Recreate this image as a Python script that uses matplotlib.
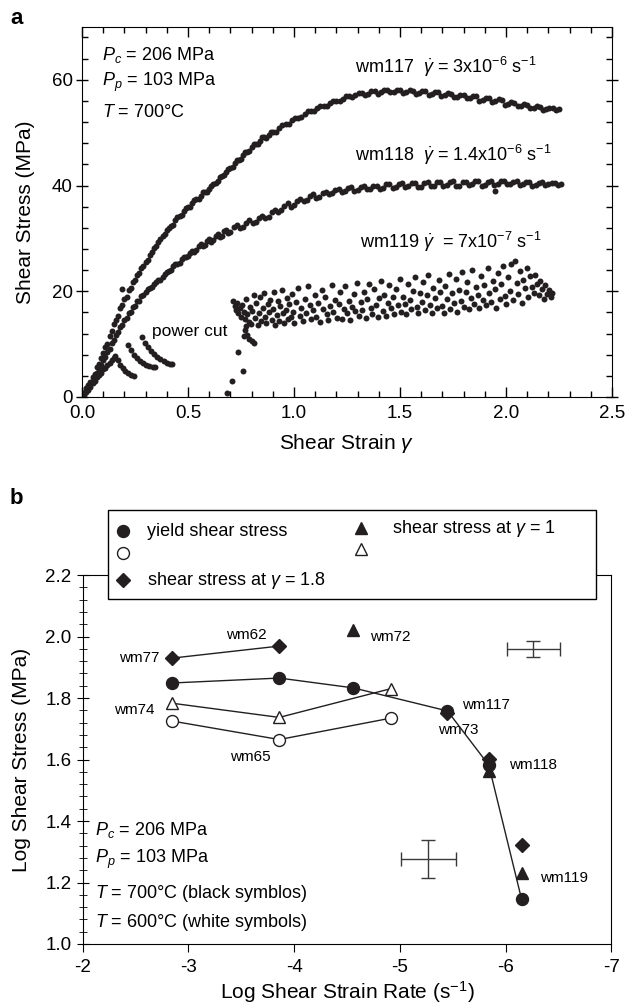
import numpy as np
import matplotlib
matplotlib.use("Agg")
import matplotlib.pyplot as plt
from matplotlib.patches import Rectangle
from matplotlib.ticker import MultipleLocator, FormatStrFormatter

plt.rcParams['font.family'] = ['Liberation Sans', 'DejaVu Sans']
plt.rcParams['mathtext.fontset'] = 'custom'
plt.rcParams['mathtext.rm'] = 'Liberation Sans'
plt.rcParams['mathtext.it'] = 'Liberation Sans:italic'
plt.rcParams['mathtext.bf'] = 'Liberation Sans:bold'
plt.rcParams['axes.unicode_minus'] = False

INK = '#231f20'

# ---- panel a: shear stress (MPa) vs shear strain ----
wm117_pts = [
    (0.00, 0.3), (0.01, 0.8), (0.02, 1.6), (0.03, 2.2), (0.04, 2.9), (0.05, 3.8), (0.06, 4.3),
    (0.07, 5.6), (0.08, 6.2), (0.09, 7.4), (0.10, 8.3), (0.11, 9.4), (0.12, 10.1), (0.13, 11.6),
    (0.14, 12.4), (0.15, 13.8), (0.16, 14.6), (0.17, 15.3), (0.18, 16.9), (0.19, 17.4), (0.19, 20.4),
    (0.20, 18.6), (0.21, 19.0), (0.22, 20.2), (0.23, 20.6), (0.24, 21.8), (0.25, 22.1), (0.26, 23.0),
    (0.27, 23.5), (0.28, 24.4), (0.29, 24.8), (0.30, 25.6), (0.31, 26.0), (0.32, 26.9), (0.33, 27.4),
    (0.34, 28.1), (0.35, 28.5), (0.36, 29.3), (0.37, 29.8), (0.38, 30.4), (0.39, 30.9), (0.40, 31.5),
    (0.42, 32.3), (0.44, 33.4), (0.46, 34.2), (0.48, 35.1), (0.50, 35.9), (0.52, 36.6), (0.54, 37.5),
    (0.56, 38.1), (0.58, 38.8), (0.60, 39.3), (0.62, 40.3), (0.64, 40.9), (0.66, 41.8), (0.68, 42.5),
    (0.70, 43.3), (0.72, 44.2), (0.74, 44.9), (0.76, 45.8), (0.78, 46.3), (0.80, 47.2), (0.82, 47.9),
    (0.84, 48.5), (0.86, 49.2), (0.88, 49.6), (0.90, 50.1), (0.93, 50.9), (0.96, 51.6), (0.99, 52.3),
    (1.02, 52.8), (1.05, 53.5), (1.08, 54.0), (1.11, 54.6), (1.14, 55.0), (1.17, 55.6), (1.20, 56.0),
    (1.23, 56.4), (1.26, 56.9), (1.29, 57.1), (1.32, 57.5), (1.35, 57.4), (1.38, 57.8), (1.41, 57.6),
    (1.44, 58.0), (1.47, 57.7), (1.50, 58.0), (1.53, 57.6), (1.56, 57.9), (1.59, 57.5), (1.62, 57.8),
    (1.65, 57.3), (1.68, 57.6), (1.71, 57.1), (1.74, 57.4), (1.77, 56.8), (1.80, 57.2), (1.83, 56.6),
    (1.86, 56.9), (1.89, 56.2), (1.92, 56.5), (1.95, 55.9), (1.98, 56.1), (2.01, 55.5), (2.04, 55.7),
    (2.07, 55.1), (2.10, 55.3), (2.13, 54.7), (2.16, 54.9), (2.19, 54.4), (2.22, 54.6), (2.25, 54.5),
    (0.41, 32.0), (0.43, 32.6), (0.45, 34.0), (0.47, 34.4), (0.49, 35.7), (0.51, 36.0), (0.53, 37.3),
    (0.55, 37.5), (0.57, 38.7), (0.59, 38.8), (0.61, 40.0), (0.63, 40.4), (0.65, 41.6), (0.67, 41.9),
    (0.69, 43.1), (0.71, 43.5), (0.73, 44.8), (0.75, 45.1), (0.77, 46.3), (0.79, 46.5), (0.81, 47.8),
    (0.83, 47.9), (0.85, 49.1), (0.87, 49.0), (0.89, 50.1), (0.915, 50.2), (0.945, 51.5), (0.975, 51.7),
    (1.005, 52.7), (1.035, 52.9), (1.065, 54.0), (1.095, 54.1), (1.125, 55.0), (1.155, 55.1),
    (1.185, 56.0), (1.215, 56.0), (1.245, 56.9), (1.275, 56.7), (1.305, 57.5), (1.335, 57.2),
    (1.365, 57.9), (1.395, 57.4), (1.425, 58.1), (1.455, 57.6), (1.485, 58.1), (1.515, 57.5),
    (1.545, 58.0), (1.575, 57.3), (1.605, 57.9), (1.635, 57.2), (1.665, 57.7), (1.695, 56.9),
    (1.725, 57.5), (1.755, 56.7), (1.785, 57.2), (1.815, 56.5), (1.845, 57.0), (1.875, 56.0),
    (1.905, 56.6), (1.935, 55.8), (1.965, 56.3), (1.995, 55.3), (2.025, 55.8), (2.055, 55.0),
    (2.085, 55.4), (2.115, 54.6), (2.145, 55.0), (2.175, 54.3), (2.205, 54.7), (2.235, 54.2),
]

wm118_pts = [
    (0.00, 0.2), (0.01, 0.7), (0.02, 1.3), (0.03, 1.9), (0.04, 2.4), (0.05, 3.1), (0.06, 3.8),
    (0.07, 4.6), (0.08, 5.3), (0.09, 6.1), (0.10, 6.9), (0.11, 7.6), (0.12, 8.5), (0.13, 9.1),
    (0.14, 10.2), (0.15, 10.8), (0.16, 11.7), (0.17, 12.2), (0.18, 13.3), (0.19, 13.7), (0.20, 14.6),
    (0.21, 15.0), (0.22, 15.9), (0.23, 16.1), (0.24, 17.0), (0.25, 17.2), (0.26, 18.1), (0.27, 18.2),
    (0.28, 19.1), (0.29, 19.2), (0.30, 19.9), (0.32, 20.6), (0.34, 21.3), (0.36, 22.1), (0.38, 22.6),
    (0.40, 23.7), (0.42, 24.1), (0.44, 25.2), (0.46, 25.4), (0.48, 26.5), (0.50, 26.6), (0.52, 27.6),
    (0.54, 27.8), (0.56, 28.9), (0.58, 28.7), (0.60, 29.9), (0.62, 29.6), (0.64, 30.8), (0.66, 30.5),
    (0.68, 31.6), (0.70, 31.2), (0.73, 32.5), (0.76, 32.2), (0.79, 33.4), (0.82, 33.1), (0.85, 34.3),
    (0.88, 34.0), (0.91, 35.4), (0.94, 35.3), (0.97, 36.6), (1.00, 36.3), (1.03, 37.5), (1.06, 37.3),
    (1.09, 38.3), (1.12, 37.9), (1.15, 38.8), (1.18, 38.5), (1.21, 39.3), (1.24, 38.9), (1.27, 39.7),
    (1.30, 39.2), (1.33, 39.9), (1.36, 39.4), (1.39, 40.0), (1.42, 39.6), (1.45, 40.3), (1.48, 39.7),
    (1.51, 40.4), (1.54, 39.9), (1.57, 40.5), (1.60, 39.8), (1.63, 40.6), (1.66, 40.0), (1.69, 40.7),
    (1.72, 40.1), (1.75, 40.8), (1.78, 40.0), (1.81, 40.7), (1.84, 40.2), (1.87, 40.9), (1.90, 40.1),
    (1.93, 40.8), (1.95, 39.0), (1.96, 40.2), (1.99, 40.9), (2.02, 40.3), (2.05, 40.8), (2.08, 40.2),
    (2.11, 40.7), (2.14, 40.1), (2.17, 40.6), (2.20, 40.2), (2.23, 40.5), (2.26, 40.2),
    (0.31, 20.4), (0.33, 20.8), (0.35, 21.8), (0.37, 22.2), (0.39, 23.3), (0.41, 23.8), (0.43, 24.8),
    (0.45, 25.2), (0.47, 26.1), (0.49, 26.4), (0.51, 27.3), (0.53, 27.5), (0.55, 28.5), (0.57, 28.5),
    (0.59, 29.5), (0.61, 29.4), (0.63, 30.5), (0.65, 30.3), (0.67, 31.3), (0.69, 31.1), (0.715, 32.1),
    (0.745, 32.0), (0.775, 33.0), (0.805, 32.9), (0.835, 33.9), (0.865, 33.8), (0.895, 35.0),
    (0.925, 34.9), (0.955, 36.2), (0.985, 36.0), (1.015, 37.1), (1.045, 37.0), (1.075, 38.0),
    (1.105, 37.7), (1.135, 38.6), (1.165, 38.3), (1.195, 39.1), (1.225, 38.7), (1.255, 39.5),
    (1.285, 39.0), (1.315, 39.8), (1.345, 39.3), (1.375, 39.9), (1.405, 39.4), (1.435, 40.2),
    (1.465, 39.6), (1.495, 40.3), (1.525, 39.8), (1.555, 40.4), (1.585, 39.7), (1.615, 40.5),
    (1.645, 39.9), (1.675, 40.6), (1.705, 40.0), (1.735, 40.7), (1.765, 39.9), (1.795, 40.6),
    (1.825, 40.1), (1.855, 40.8), (1.885, 40.0), (1.915, 40.7), (1.945, 40.1), (1.975, 40.8),
    (2.005, 40.2), (2.035, 40.7), (2.065, 40.1), (2.095, 40.6), (2.125, 40.0), (2.155, 40.5),
    (2.185, 40.1), (2.215, 40.4), (2.245, 40.1),
]

# wm119 before the power cut (rise + relaxation stripes)
wm119_early = [
    (0.01, 0.3), (0.02, 0.9), (0.03, 1.4), (0.04, 1.8), (0.05, 2.6), (0.06, 3.0), (0.07, 3.7),
    (0.08, 4.1), (0.09, 4.6), (0.10, 5.2), (0.11, 5.5), (0.12, 6.0), (0.13, 6.4), (0.14, 6.9),
    (0.15, 7.4),
    (0.156, 7.8), (0.168, 6.9), (0.180, 6.1), (0.192, 5.4), (0.204, 4.9), (0.216, 4.5), (0.230, 4.2),
    (0.245, 4.0),
    (0.217, 9.8), (0.230, 8.9), (0.244, 8.0), (0.258, 7.3), (0.272, 6.8), (0.287, 6.4), (0.302, 6.1),
    (0.318, 5.9), (0.334, 5.7), (0.344, 5.6),
    (0.283, 11.3), (0.297, 10.3), (0.311, 9.4), (0.325, 8.7), (0.340, 8.1), (0.355, 7.6), (0.370, 7.1),
    (0.385, 6.8), (0.400, 6.5), (0.414, 6.3), (0.425, 6.2),
]

# wm119 after the power cut
wm119_late = [
    (0.684, 0.7), (0.707, 3.0), (0.736, 8.5), (0.760, 5.0), (0.765, 11.5), (0.770, 12.6), (0.775, 13.4),
    (0.780, 11.8), (0.790, 11.0), (0.800, 10.6), (0.810, 10.3),
    (0.712, 18.1), (0.720, 17.2), (0.725, 16.4), (0.731, 17.8), (0.738, 15.9), (0.744, 16.8), (0.750, 15.2),
    (0.756, 17.4), (0.762, 16.1), (0.768, 14.8), (0.774, 18.6), (0.780, 15.6), (0.786, 14.2), (0.792, 17.0),
    (0.798, 13.8), (0.804, 16.3), (0.810, 19.2), (0.816, 14.9), (0.822, 17.7), (0.828, 13.6), (0.834, 15.8),
    (0.840, 18.9), (0.846, 14.4), (0.852, 16.9), (0.858, 19.6), (0.864, 15.1), (0.870, 13.9), (0.876, 17.5),
    (0.882, 16.0), (0.888, 18.4), (0.894, 14.6), (0.900, 16.7), (0.906, 19.9), (0.912, 13.7), (0.918, 15.5),
    (0.924, 18.1), (0.930, 14.3), (0.936, 17.2), (0.942, 20.3), (0.948, 15.9), (0.954, 13.9), (0.960, 16.5),
    (0.966, 18.8), (0.972, 14.7), (0.978, 17.6), (0.984, 15.2), (0.990, 19.5), (0.996, 16.1), (1.002, 14.0),
    (1.010, 17.9), (1.018, 20.6), (1.026, 15.4), (1.034, 16.8), (1.042, 14.4), (1.050, 18.6), (1.058, 15.9),
    (1.066, 21.0), (1.074, 17.3), (1.082, 14.8), (1.090, 16.4), (1.098, 19.3), (1.106, 15.1), (1.114, 17.8),
    (1.122, 14.2), (1.130, 20.2), (1.138, 16.6), (1.146, 18.9), (1.154, 15.6), (1.162, 14.6), (1.170, 17.2),
    (1.178, 21.2), (1.186, 16.0), (1.194, 18.4), (1.202, 15.0), (1.210, 17.6), (1.218, 19.8), (1.226, 14.8),
    (1.234, 16.7), (1.242, 20.9), (1.250, 15.8), (1.258, 18.2), (1.266, 14.5), (1.274, 17.0), (1.282, 19.4),
    (1.290, 16.2), (1.298, 21.5), (1.306, 15.3), (1.314, 17.9), (1.322, 16.4), (1.330, 19.9), (1.338, 14.9),
    (1.346, 18.5), (1.354, 21.3), (1.362, 16.9), (1.370, 15.6), (1.378, 20.4), (1.386, 17.4), (1.394, 15.1),
    (1.402, 18.8), (1.410, 22.0), (1.418, 16.3), (1.426, 19.3), (1.434, 15.4), (1.442, 17.7), (1.450, 21.1),
    (1.458, 16.8), (1.466, 18.9), (1.474, 15.7), (1.482, 20.5), (1.490, 17.3), (1.498, 22.4), (1.506, 16.1),
    (1.514, 19.0), (1.522, 17.6), (1.530, 15.6), (1.538, 21.4), (1.546, 18.3), (1.554, 16.6), (1.562, 20.0),
    (1.570, 22.6), (1.578, 17.1), (1.586, 15.9), (1.594, 19.6), (1.602, 18.0), (1.610, 21.8), (1.618, 16.4),
    (1.626, 19.3), (1.634, 23.0), (1.642, 17.4), (1.650, 15.8), (1.658, 20.6), (1.666, 18.7), (1.674, 16.9),
    (1.682, 22.1), (1.690, 19.8), (1.698, 17.2), (1.706, 15.9), (1.714, 21.0), (1.722, 18.5), (1.730, 23.3),
    (1.738, 16.7), (1.746, 19.6), (1.754, 17.8), (1.762, 22.4), (1.770, 16.1), (1.778, 20.3), (1.786, 18.2),
    (1.794, 23.6), (1.802, 17.0), (1.810, 19.9), (1.818, 21.7), (1.826, 16.6), (1.834, 18.8), (1.842, 24.0),
    (1.850, 17.6), (1.858, 20.8), (1.866, 19.2), (1.874, 16.9), (1.882, 22.8), (1.890, 18.4), (1.898, 21.2),
    (1.906, 17.3), (1.914, 24.4), (1.922, 19.7), (1.930, 17.9), (1.938, 22.0), (1.946, 20.5), (1.954, 16.8),
    (1.962, 23.4), (1.970, 18.6), (1.978, 21.4), (1.986, 24.8), (1.994, 19.1), (2.002, 17.5), (2.010, 22.6),
    (2.018, 20.1), (2.026, 25.2), (2.034, 18.3), (2.042, 25.8), (2.050, 21.5), (2.058, 19.4), (2.066, 23.8),
    (2.074, 17.8), (2.082, 22.2), (2.090, 20.6), (2.098, 24.3), (2.106, 18.9), (2.114, 22.9), (2.122, 20.8),
    (2.130, 19.6), (2.138, 23.1), (2.146, 21.3), (2.154, 19.2), (2.162, 22.0), (2.170, 20.4), (2.178, 18.6),
    (2.186, 21.2), (2.194, 19.5), (2.202, 20.3), (2.210, 18.9), (2.218, 19.6),
]

# ---- panel b: log shear stress vs log shear strain rate ----
rate_yield = [-2.85, -3.86, -4.56, -5.45, -5.84, -6.15]
yield_700 = [1.849, 1.865, 1.833, 1.758, 1.582, 1.146]
rate_g18 = [-2.85, -3.86]
stress_g18 = [1.930, 1.969]
rate_g18_b = [-5.45, -5.84, -6.15]
stress_g18_b = [1.750, 1.602, 1.322]
rate_g1 = [-4.56, -5.84, -6.15]
stress_g1 = [2.020, 1.562, 1.231]
rate_600 = [-2.85, -3.86, -4.92]
yield_600 = [1.725, 1.665, 1.735]
g1_600 = [1.783, 1.737, 1.831]
err_rate = [-6.26, -5.27]
err_stress = [1.959, 1.276]
err_dx = [0.25, 0.26]
err_dy = [0.025, 0.062]
sample_names = ['wm77', 'wm62', 'wm74', 'wm65', 'wm72', 'wm117', 'wm73', 'wm118', 'wm119']
name_x = [-2.73, -3.55, -2.68, -3.59, -4.72, -5.59, -5.55, -6.03, -6.32]
name_y = [1.930, 2.005, 1.761, 1.608, 1.998, 1.777, 1.696, 1.582, 1.215]
name_ha = ['right', 'center', 'right', 'center', 'left', 'left', 'center', 'left', 'left']

fig = plt.figure(figsize=(6.26, 10.08), dpi=100)

# ================= panel a =================
ax = fig.add_axes([0.131, 0.6062, 0.8466, 0.3671])
for pts in (wm117_pts, wm118_pts, wm119_early, wm119_late):
    arr = np.array(pts)
    ax.plot(arr[:, 0], arr[:, 1], 'o', ms=4.3, color=INK, mec='none')

ax.set_xlim(0, 2.5)
ax.set_ylim(0, 70)
ax.xaxis.set_major_locator(MultipleLocator(0.5))
ax.xaxis.set_minor_locator(MultipleLocator(0.1))
ax.xaxis.set_major_formatter(FormatStrFormatter('%.1f'))
ax.yaxis.set_major_locator(MultipleLocator(20))
ax.yaxis.set_minor_locator(MultipleLocator(4))
ax.tick_params(which='both', top=True, right=True, direction='in', labelsize=13.5, width=1)
ax.tick_params(which='major', length=7, pad=6)
ax.tick_params(which='minor', length=4)
ax.tick_params(axis='y', which='major', direction='inout', length=9, pad=2)
ax.set_xlabel(r'Shear Strain $\gamma$', fontsize=15, labelpad=7)
ax.set_ylabel('Shear Stress (MPa)', fontsize=15, labelpad=12)

ax.text(0.038, 0.924, r'$P_c$ = 206 MPa', transform=ax.transAxes, fontsize=13, va='center')
ax.text(0.038, 0.849, r'$P_p$ = 103 MPa', transform=ax.transAxes, fontsize=13, va='center')
ax.text(0.038, 0.770, r'$T$ = 700°C', transform=ax.transAxes, fontsize=13, va='center')
ax.text(1.29, 62.5, r'wm117  $\dot{\gamma}$ = 3x10$^{-6}$ s$^{-1}$', fontsize=13, va='center')
ax.text(1.29, 45.8, r'wm118  $\dot{\gamma}$ = 1.4x10$^{-6}$ s$^{-1}$', fontsize=13, va='center')
ax.text(1.31, 29.4, r'wm119 $\dot{\gamma}$  = 7x10$^{-7}$ s$^{-1}$', fontsize=13, va='center')
ax.text(0.33, 12.4, 'power cut', fontsize=12.5, va='center')

# ================= panel b =================
bx = fig.add_axes([0.1318, 0.0635, 0.845, 0.366])
bx.plot(rate_yield, yield_700, '-o', color=INK, lw=1, ms=8.6, zorder=4)
bx.plot(rate_g18, stress_g18, '-D', color=INK, lw=1, ms=7.2, zorder=4)
bx.plot(rate_g18_b, stress_g18_b, 'D', color=INK, ms=7.2, zorder=4)
bx.plot(rate_g1, stress_g1, '^', color=INK, ms=8.2, zorder=4)
bx.plot(rate_600, g1_600, '-^', color=INK, mfc='white', lw=1, ms=8.2, zorder=4)
bx.plot(rate_600, yield_600, '-o', color=INK, mfc='white', lw=1, ms=8.6, zorder=4)
bx.errorbar(err_rate, err_stress, xerr=err_dx, yerr=err_dy, fmt='none',
            ecolor='#3a3a3a', elinewidth=1, capsize=5, capthick=1)

for name, nx_, ny_, ha in zip(sample_names, name_x, name_y, name_ha):
    bx.text(nx_, ny_, name, fontsize=11, ha=ha, va='center')

bx.set_xlim(-2, -7)
bx.set_ylim(1.0, 2.2)
bx.xaxis.set_major_locator(MultipleLocator(1))
bx.yaxis.set_major_locator(MultipleLocator(0.2))
bx.yaxis.set_minor_locator(MultipleLocator(0.04))
bx.yaxis.set_major_formatter(FormatStrFormatter('%.1f'))
bx.tick_params(axis='x', direction='out', length=6, labelsize=13.5, pad=5)
bx.tick_params(axis='y', which='major', direction='inout', length=9, labelsize=13.5)
bx.tick_params(axis='y', which='minor', direction='inout', length=6)
bx.set_xlabel('Log Shear Strain Rate (s$^{-1}$)', fontsize=15, labelpad=2)
bx.set_ylabel('Log Shear Stress (MPa)', fontsize=15, labelpad=10)

bx.text(0.024, 0.309, r'$P_c$ = 206 MPa', transform=bx.transAxes, fontsize=13, va='center')
bx.text(0.024, 0.228, r'$P_p$ = 103 MPa', transform=bx.transAxes, fontsize=13, va='center')
bx.text(0.024, 0.138, r'$T$ = 700°C (black symblos)', transform=bx.transAxes, fontsize=13, va='center')
bx.text(0.024, 0.057, r'$T$ = 600°C (white symbols)', transform=bx.transAxes, fontsize=13, va='center')

# legend box drawn over the top spine
bx.add_patch(Rectangle((0.048, 0.935), 0.923, 0.241, transform=bx.transAxes,
                       facecolor='white', edgecolor='black', lw=1, clip_on=False, zorder=6))
leg_items = [
    (0.0766, 1.119, 'o', INK, 8.6, 'yield shear stress'),
    (0.0766, 1.060, 'o', 'white', 8.6, ''),
    (0.0766, 0.986, 'D', INK, 7.2, r'shear stress at $\gamma$ = 1.8'),
    (0.5265, 1.127, '^', INK, 8.2, r'shear stress at $\gamma$ = 1'),
    (0.5265, 1.070, '^', 'white', 8.2, ''),
]
for lx, ly, mk, fc, ms, lab in leg_items:
    bx.plot([lx], [ly], mk, mfc=fc, mec=INK, ms=ms, transform=bx.transAxes, clip_on=False, zorder=7)
    if lab:
        tx = lx + (0.046 if lx < 0.3 else 0.058)
        bx.text(tx, ly, lab, transform=bx.transAxes, fontsize=13, va='center', zorder=7)

fig.text(0.016, 1 - 18 / 1008, 'a', fontsize=16, fontweight='bold', va='center')
fig.text(0.016, 1 - 498 / 1008, 'b', fontsize=16, fontweight='bold', va='center')

fig.savefig('out.png', dpi=100)
